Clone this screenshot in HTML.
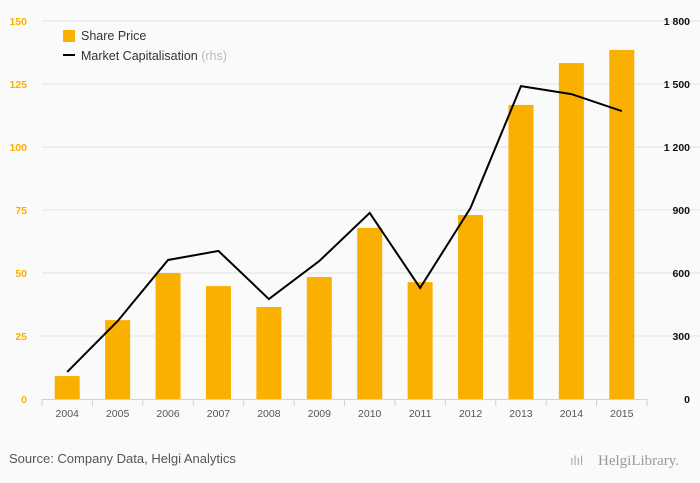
<!DOCTYPE html>
<html><head><meta charset="utf-8"><style>
body{margin:0;background:#fafafa;font-family:"Liberation Sans",sans-serif}
svg{display:block}
</style></head><body>
<svg width="700" height="483" xmlns="http://www.w3.org/2000/svg">
<rect width="700" height="483" fill="#fafafa"/>
<g id="grid"></g><g id="bars"></g><g id="line"></g><g id="axes"></g>
<g>
<rect x="63" y="30" width="12" height="12" fill="#fab000"/>
<text x="81" y="40" font-size="12.5" fill="#333">Share Price</text>
<rect x="63" y="54" width="12" height="2" fill="#000"/>
<text x="81" y="60" font-size="12.5" fill="#333">Market Capitalisation <tspan fill="#bbb">(rhs)</tspan></text>
</g>
<text x="9" y="463" font-size="13" fill="#555">Source: Company Data, Helgi Analytics</text>
<text x="598" y="465" font-size="15" fill="#999" font-family="Liberation Serif,serif">HelgiLibrary.</text>
<text x="570" y="465" font-size="13" fill="#aaa">ılıl</text>
</svg>
<script>
const categories=["2004","2005","2006","2007","2008","2009","2010","2011","2012","2013","2014","2015"];
const sharePrice=[9.1,31.3,50,44.8,36.5,48.4,67.9,46.4,73,116.7,133.3,138.5];
const marketCap=[129,371,662,705,476,657,886,529,910,1490,1452,1371];
const leftTicks=[0,25,50,75,100,125,150];
const rightTicks=[0,300,600,900,1200,1500,1800];
const rightLabels=["0","300","600","900","1 200","1 500","1 800"];
const NS="http://www.w3.org/2000/svg";
const x0=42,x1=647,yB=399,yT=21;
const band=(x1-x0)/categories.length;
const xC=i=>x0+band*(i+0.5);
const yL=v=>yB-(v/150)*(yB-yT);
const yR=v=>yB-(v/1800)*(yB-yT);
function mk(t,a,p){const e=document.createElementNS(NS,t);for(const k in a)e.setAttribute(k,a[k]);p.appendChild(e);return e;}
const grid=document.getElementById('grid'),bars=document.getElementById('bars'),line=document.getElementById('line'),axes=document.getElementById('axes');
leftTicks.forEach((v,i)=>{
 if(v>0){const g=mk('line',{x1:x0,x2:700,y1:yL(v),y2:yL(v),stroke:'#e3e3e3'},grid);
 
 }
 const t=mk('text',{x:27,y:yL(v)+4,'font-size':10.5,fill:'#fab000','text-anchor':'end','font-weight':'bold'},axes);t.textContent=v;
 
 
});
rightTicks.forEach((v,i)=>{
 const t=mk('text',{x:690,y:yR(v)+4,'font-size':10.5,fill:'#111','text-anchor':'end','font-weight':'bold'},axes);t.textContent=rightLabels[i];
 
 
});
categories.forEach((c,i)=>{
 const h=yB-yL(sharePrice[i]);
 const b=mk('rect',{x:xC(i)-12.5,y:yL(sharePrice[i]),width:25,height:h,fill:'#fab000'},bars);
 
 
 const t=mk('text',{x:xC(i),y:417,'font-size':10.5,fill:'#555','text-anchor':'middle'},axes);t.textContent=c;
 
 
});
for(let i=0;i<=categories.length;i++){
 const tk=mk('line',{x1:x0+band*i,x2:x0+band*i,y1:yB,y2:yB+7,stroke:'#c8d4e8'},axes);
 
 
}
const ax=mk('line',{x1:x0,x2:x1,y1:yB+0.5,y2:yB+0.5,stroke:'#c8d4e8'},axes);


const pl=mk('polyline',{points:marketCap.map((v,i)=>xC(i)+','+yR(v)).join(' '),fill:'none',stroke:'#000','stroke-width':2},line);


</script>
</body></html>
